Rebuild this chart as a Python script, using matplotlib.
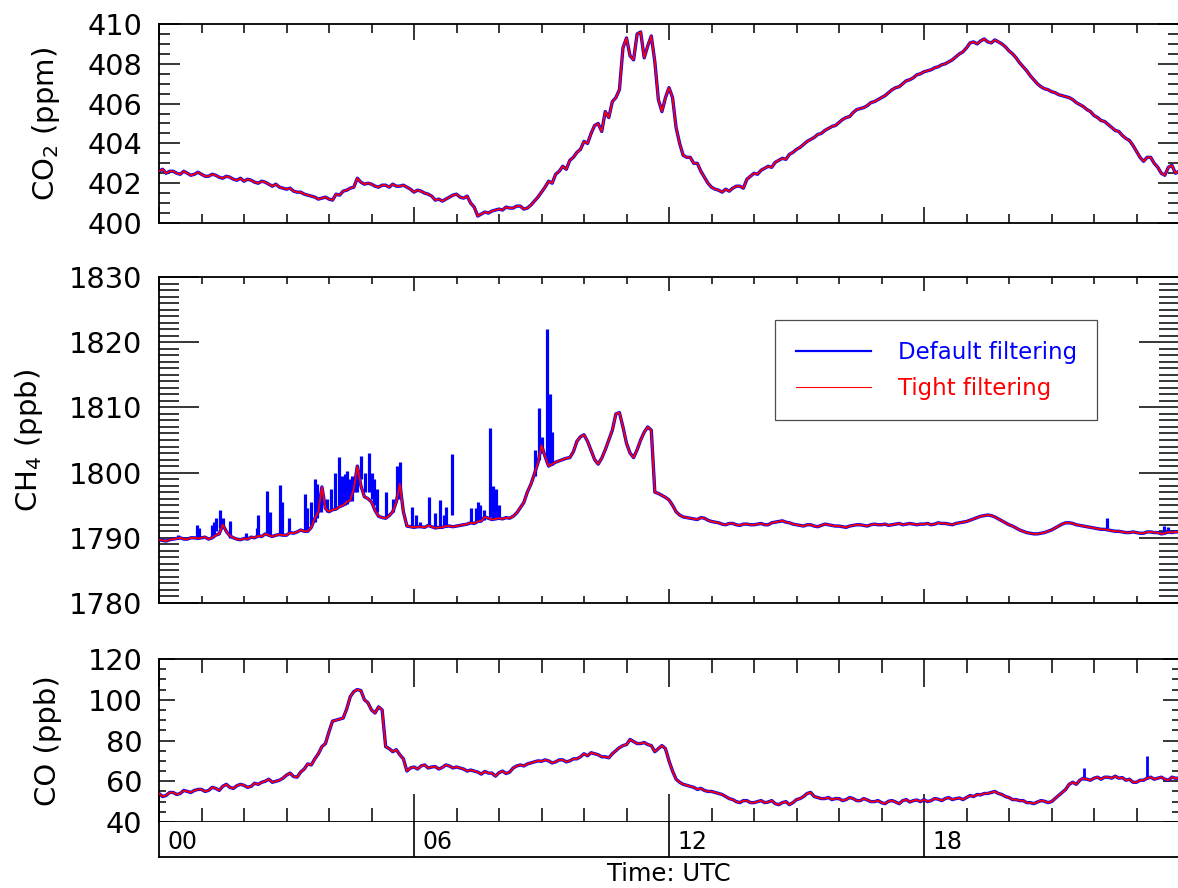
import numpy as np
import matplotlib.pyplot as plt
from matplotlib.ticker import MultipleLocator

plt.rcParams['font.family'] = 'DejaVu Sans'
plt.rcParams['mathtext.default'] = 'regular'

# 5-minute samples, 00 to 24 UTC
hours = np.linspace(0, 24, 289)

co2 = [
    402.6, 402.7, 402.5, 402.6, 402.6, 402.5, 402.45, 402.6, 402.5, 402.4, 402.45, 402.55,
    402.45, 402.35, 402.35, 402.45, 402.4, 402.3, 402.25, 402.35, 402.3, 402.2, 402.15, 402.25,
    402.1, 402.2, 402.15, 402.05, 402.0, 402.1, 402.05, 401.95, 401.85, 401.95, 401.8, 401.75,
    401.7, 401.75, 401.6, 401.55, 401.55, 401.45, 401.4, 401.35, 401.3, 401.2, 401.25, 401.3,
    401.2, 401.15, 401.45, 401.4, 401.6, 401.65, 401.75, 401.8, 402.25, 402.05, 401.95, 402.0,
    401.95, 401.85, 401.8, 401.9, 401.9, 401.8, 401.95, 401.85, 401.85, 401.9, 401.8, 401.7,
    401.55, 401.65, 401.6, 401.5, 401.45, 401.35, 401.15, 401.2, 401.1, 401.2, 401.3, 401.4,
    401.45, 401.3, 401.25, 401.35, 401.0, 400.8, 400.35, 400.45, 400.55, 400.5, 400.6, 400.65,
    400.7, 400.65, 400.8, 400.75, 400.75, 400.85, 400.85, 400.7, 400.75, 400.9, 401.1, 401.3,
    401.55, 401.8, 402.1, 402.0, 402.45, 402.6, 402.85, 402.7, 403.15, 403.3, 403.55, 403.7,
    404.1, 404.0, 404.5, 404.9, 405.0, 404.6, 405.6, 405.3, 406.1, 406.3, 406.7, 408.8,
    409.3, 408.4, 408.2, 409.5, 409.6, 408.3, 408.9, 409.4, 408.1, 406.2, 405.6, 406.3,
    406.8, 406.3, 404.8, 404.0, 403.4, 403.3, 403.3, 403.0, 403.0, 402.6, 402.3, 402.0,
    401.8, 401.7, 401.65, 401.55, 401.7, 401.6, 401.75, 401.85, 401.85, 401.75, 402.2, 402.35,
    402.5, 402.45, 402.65, 402.75, 402.85, 402.8, 403.05, 403.15, 403.25, 403.2, 403.45, 403.55,
    403.7, 403.8, 403.95, 404.1, 404.2, 404.3, 404.45, 404.5, 404.65, 404.75, 404.85, 404.9,
    405.05, 405.2, 405.3, 405.35, 405.55, 405.7, 405.75, 405.8, 405.9, 406.05, 406.1, 406.2,
    406.3, 406.4, 406.55, 406.7, 406.8, 406.85, 407.0, 407.15, 407.2, 407.3, 407.45, 407.5,
    407.6, 407.65, 407.7, 407.8, 407.85, 407.95, 408.0, 408.1, 408.2, 408.35, 408.5, 408.6,
    408.8, 409.05, 409.1, 409.0, 409.15, 409.25, 409.1, 409.05, 409.2, 409.1, 409.0, 408.85,
    408.65, 408.5, 408.3, 408.05, 407.85, 407.65, 407.4, 407.2, 407.0, 406.85, 406.75, 406.7,
    406.6, 406.55, 406.45, 406.4, 406.35, 406.3, 406.2, 406.05, 405.95, 405.85, 405.7, 405.6,
    405.4, 405.3, 405.15, 405.1, 404.95, 404.8, 404.65, 404.6, 404.4, 404.25, 404.15, 403.9,
    403.6, 403.3, 403.1, 403.3, 403.3, 403.0, 402.8, 402.5, 402.4, 402.8, 402.9, 402.5,
    402.6,
]

ch4_tight = [
    1789.7, 1789.6, 1789.5, 1789.7, 1789.8, 1789.9, 1790.0, 1789.8, 1789.8, 1790.0, 1790.0, 1789.9,
    1790.0, 1790.1, 1789.8, 1790.0, 1790.4, 1790.6, 1792.0, 1791.0, 1790.3, 1790.0, 1789.8, 1789.7,
    1789.9, 1789.8, 1790.1, 1790.0, 1790.3, 1790.2, 1790.6, 1790.4, 1790.2, 1790.4, 1790.5, 1790.4,
    1790.4, 1790.8, 1790.7, 1790.9, 1791.2, 1791.0, 1791.0, 1791.6, 1793.0, 1794.0, 1797.8, 1794.5,
    1794.0, 1794.3, 1794.4, 1794.8, 1795.0, 1795.5, 1795.8, 1797.5, 1801.0, 1798.0, 1796.3, 1796.0,
    1795.5, 1794.2, 1793.3, 1793.1, 1793.0, 1793.4, 1794.0, 1795.5, 1798.3, 1794.0, 1791.8, 1791.7,
    1791.6, 1791.7, 1791.7, 1791.6, 1791.9, 1791.7, 1791.5, 1791.6, 1791.6, 1791.8, 1791.8, 1791.7,
    1791.8, 1791.9, 1792.0, 1792.1, 1792.3, 1792.2, 1792.5, 1792.6, 1793.2, 1793.0, 1792.8, 1792.9,
    1793.0, 1792.9, 1793.1, 1793.0, 1793.3, 1793.8, 1794.6, 1795.4, 1797.0, 1798.2, 1799.8, 1801.5,
    1804.2, 1802.5, 1801.0, 1801.3, 1801.6, 1801.8, 1802.0, 1802.2, 1802.3, 1803.2, 1804.8, 1805.5,
    1805.8, 1804.8, 1803.4, 1802.0, 1801.3, 1802.2, 1803.5, 1805.0, 1806.5, 1809.0, 1809.2, 1807.0,
    1804.5, 1803.0, 1802.3, 1803.5, 1805.0, 1806.2, 1807.0, 1806.5, 1797.0, 1796.8, 1796.5, 1796.2,
    1795.8, 1795.0, 1794.0, 1793.5, 1793.2, 1793.1, 1793.0, 1792.9, 1792.8, 1793.1, 1793.0, 1792.7,
    1792.5, 1792.4, 1792.3, 1792.1, 1792.0, 1792.2, 1792.2, 1792.0, 1791.9, 1792.1, 1792.1, 1792.0,
    1792.0, 1792.1, 1792.2, 1792.0, 1792.0, 1792.3, 1792.4, 1792.5, 1792.6, 1792.4, 1792.3, 1792.1,
    1792.0, 1791.9, 1791.8, 1792.0, 1792.0, 1791.8, 1791.7, 1791.9, 1792.1, 1792.0, 1791.9, 1791.8,
    1791.8, 1791.7, 1791.6, 1791.8, 1791.9, 1792.0, 1792.0, 1791.9, 1791.8, 1792.0, 1792.1, 1792.0,
    1792.0, 1792.1, 1791.9, 1792.0, 1792.1, 1792.2, 1792.0, 1792.1, 1792.2, 1792.1, 1792.0, 1792.1,
    1792.1, 1792.2, 1792.0, 1792.1, 1792.3, 1792.2, 1792.2, 1792.1, 1792.0, 1792.2, 1792.3, 1792.4,
    1792.5, 1792.7, 1792.9, 1793.1, 1793.3, 1793.4, 1793.5, 1793.4, 1793.2, 1792.9, 1792.6, 1792.3,
    1792.0, 1791.8, 1791.5, 1791.2, 1791.0, 1790.8, 1790.7, 1790.6, 1790.6, 1790.7, 1790.8, 1791.0,
    1791.2, 1791.5, 1791.8, 1792.1, 1792.3, 1792.3, 1792.2, 1792.0, 1791.9, 1791.8, 1791.7, 1791.6,
    1791.5, 1791.4, 1791.3, 1791.3, 1791.2, 1791.1, 1791.0, 1791.0, 1790.9, 1790.8, 1790.8, 1790.9,
    1790.8, 1790.7, 1790.7, 1790.9, 1790.9, 1790.8, 1790.8, 1790.6, 1790.7, 1790.9, 1790.8, 1790.9,
    1790.9,
]

# spikes only kept by the default filter
ch4_spike_hour = [0.45, 0.89, 0.95, 1.24, 1.3, 1.35, 1.44, 1.5, 1.67, 2.05, 2.3, 2.34,
                  2.55, 2.6, 2.85, 2.9, 3.05, 3.43, 3.48, 3.58, 3.67, 3.72, 3.8, 3.95,
                  4.05, 4.15, 4.24, 4.3, 4.38, 4.42, 4.5, 4.55, 4.6, 4.65, 4.75, 4.85,
                  4.93, 5.0, 5.06, 5.12, 5.35, 5.5, 5.6, 5.67, 5.96, 6.05, 6.15, 6.35,
                  6.5, 6.6, 6.7, 6.75, 6.89, 7.35, 7.45, 7.5, 7.55, 7.65, 7.79, 7.85,
                  7.92, 8.0, 8.85, 8.94, 9.0, 9.13, 9.2, 9.25, 22.3, 23.65, 23.75]
ch4_spike_base = [1789.8, 1790.0, 1790.0, 1790.0, 1790.2, 1791.0, 1791.5, 1791.5, 1790.0, 1790.0, 1790.2, 1790.3,
                  1790.4, 1790.4, 1790.5, 1790.5, 1790.8, 1791.0, 1791.0, 1792.0, 1792.5, 1793.0, 1794.0, 1794.0,
                  1794.2, 1794.5, 1795.0, 1795.0, 1795.0, 1795.2, 1796.0, 1795.6, 1797.0, 1797.0, 1799.0, 1797.0,
                  1797.0, 1796.0, 1795.0, 1794.0, 1793.2, 1794.0, 1796.0, 1796.0, 1791.7, 1791.7, 1791.7, 1791.8,
                  1791.6, 1791.6, 1791.7, 1791.7, 1793.5, 1792.3, 1792.5, 1792.5, 1792.5, 1792.8, 1793.2, 1793.0,
                  1793.0, 1793.0, 1799.5, 1802.0, 1803.0, 1801.5, 1801.5, 1801.2, 1791.5, 1790.8, 1790.8]
ch4_spike_top = [1790.5, 1791.9, 1791.5, 1791.9, 1792.5, 1793.0, 1794.3, 1793.0, 1792.6, 1790.8, 1791.5, 1793.5,
                 1797.2, 1794.0, 1798.1, 1795.5, 1793.0, 1796.7, 1794.5, 1795.5, 1799.0, 1798.3, 1797.0, 1796.0,
                 1797.5, 1800.0, 1802.4, 1799.5, 1799.8, 1800.2, 1799.0, 1799.5, 1798.5, 1801.0, 1802.6, 1800.0,
                 1803.0, 1800.0, 1799.0, 1797.5, 1797.0, 1796.0, 1801.0, 1801.7, 1794.7, 1793.5, 1792.5, 1796.3,
                 1793.8, 1795.8, 1793.5, 1794.8, 1802.8, 1794.5, 1794.5, 1795.5, 1795.0, 1794.2, 1806.9, 1797.9,
                 1797.5, 1795.0, 1803.5, 1809.9, 1805.5, 1822.0, 1812.0, 1806.2, 1793.1, 1791.8, 1791.6]

co = [
    54.0, 52.5, 53.0, 54.5, 54.5, 53.5, 54.0, 55.5, 55.0, 54.5, 55.5, 56.0,
    56.0, 55.0, 55.5, 57.0, 56.5, 55.5, 57.5, 58.5, 57.0, 56.5, 57.8, 58.5,
    58.0, 57.0, 57.5, 59.0, 58.5, 59.5, 60.0, 61.0, 59.5, 60.0, 60.5, 61.5,
    63.0, 64.0, 62.3, 62.0, 64.5, 66.0, 68.5, 68.0, 71.0, 73.5, 77.0, 78.5,
    84.3, 89.5, 90.0, 90.5, 91.0, 95.5, 101.5, 104.0, 105.0, 104.5, 100.0, 98.5,
    95.0, 93.5, 96.5, 95.0, 77.0, 76.0, 74.5, 75.5, 73.0, 71.0, 65.0, 66.5,
    67.0, 66.0, 67.5, 68.0, 66.5, 67.0, 67.2, 66.0, 66.8, 68.0, 67.5, 66.5,
    67.0, 66.5, 66.0, 65.0, 65.5, 65.0, 64.5, 63.5, 64.8, 64.0, 64.0, 62.5,
    64.2, 65.0, 63.8, 64.5, 66.5, 67.5, 68.0, 67.5, 68.5, 69.0, 69.5, 70.0,
    69.8, 70.5, 70.0, 69.0, 69.5, 70.5, 70.5, 69.5, 70.0, 71.0, 71.0, 72.0,
    73.5, 72.5, 74.0, 73.5, 73.0, 72.0, 72.0, 71.5, 73.5, 75.0, 76.5, 77.5,
    78.0, 80.5, 79.5, 78.5, 78.5, 79.0, 78.0, 77.5, 74.5, 76.0, 77.5, 76.0,
    70.0, 65.0, 61.0, 59.5, 58.5, 58.0, 57.5, 57.0, 56.0, 56.5, 55.5, 55.0,
    55.0, 54.5, 54.0, 53.5, 52.5, 51.5, 51.0, 50.0, 49.5, 50.5, 50.5, 49.5,
    49.5, 50.0, 50.5, 49.5, 49.8, 50.5, 49.0, 48.5, 49.5, 50.0, 48.5, 49.5,
    51.0, 51.5, 52.5, 54.0, 54.5, 52.5, 52.0, 51.5, 51.5, 52.0, 51.0, 51.5,
    51.5, 50.5, 51.0, 52.0, 51.5, 50.5, 50.5, 51.5, 50.8, 50.0, 50.0, 50.5,
    49.5, 49.0, 50.2, 50.5, 49.8, 49.0, 50.5, 51.0, 49.8, 50.5, 50.8, 50.0,
    51.0, 50.0, 50.5, 51.5, 51.2, 50.5, 51.5, 52.0, 51.0, 51.5, 51.8, 51.0,
    52.0, 53.0, 52.5, 53.5, 53.3, 54.0, 54.0, 54.5, 55.0, 54.0, 53.5, 52.5,
    52.0, 51.0, 51.0, 50.5, 50.5, 49.5, 49.5, 49.0, 49.8, 50.5, 50.2, 49.5,
    50.0, 51.5, 53.0, 54.5, 56.0, 58.5, 59.5, 58.5, 60.5, 61.5, 61.0, 60.5,
    61.5, 62.0, 61.0, 62.0, 62.0, 61.5, 62.5, 61.5, 61.8, 60.5, 61.0, 59.5,
    59.5, 60.5, 60.5, 61.5, 62.0, 61.0, 61.5, 62.0, 61.0, 60.5, 62.0, 61.5,
    61.5,
]
co_spike_hour = [21.77, 23.25]
co_spike_base = [60.5, 61.0]
co_spike_top = [66.4, 72.4]

time_label_hours = [0, 6, 12, 18]
time_labels = ['00', '06', '12', '18']

assert len(co2) == len(ch4_tight) == len(co) == len(hours)

BLUE = '#0000ff'
RED = '#ff0000'
W, H = 1178, 888
PT = 0.72  # points per pixel at dpi 100

fig = plt.figure(figsize=(W / 100, H / 100), dpi=100)


def px_axes(top, bottom):
    return fig.add_axes([159 / W, 1 - bottom / H, 1020 / W, (bottom - top) / H])


def style(ax, ymaj, ymin, ylen, xlen):
    ax.set_xlim(0, 24)
    ax.xaxis.set_major_locator(MultipleLocator(6))
    ax.xaxis.set_minor_locator(MultipleLocator(1))
    ax.yaxis.set_major_locator(MultipleLocator(ymaj))
    ax.yaxis.set_minor_locator(MultipleLocator(ymin))
    ax.tick_params(which='both', direction='in', top=True, right=True,
                   labelbottom=False, width=1.1, color='black')
    ax.tick_params(axis='y', which='major', length=ylen[0] * PT, labelsize=20.7, pad=12)
    ax.tick_params(axis='y', which='minor', length=ylen[1] * PT)
    ax.tick_params(axis='x', which='major', length=xlen[0] * PT)
    ax.tick_params(axis='x', which='minor', length=xlen[1] * PT)
    for s in ax.spines.values():
        s.set_linewidth(1.3)


# CO2
ax1 = px_axes(24, 223)
ax1.plot(hours, co2, color=BLUE, lw=2.4, zorder=2)
ax1.plot(hours, co2, color=RED, lw=1.3, zorder=3)
ax1.set_ylim(400, 410)
style(ax1, 2, 0.5, (21, 11), (16, 9))
ax1.set_ylabel('CO$_2$ (ppm)', fontsize=21)
ax1.yaxis.set_label_coords(-(159 - 62) / 1020, 0.5)

# CH4
ax2 = px_axes(277, 603)
l_def, = ax2.plot(hours, ch4_tight, color=BLUE, lw=2.4, zorder=2, label='Default filtering')
ax2.vlines(ch4_spike_hour, ch4_spike_base, ch4_spike_top, color=BLUE, lw=2.3, zorder=2)
l_tight, = ax2.plot(hours, ch4_tight, color=RED, lw=1.3, zorder=3, label='Tight filtering')
ax2.set_ylim(1780, 1830)
style(ax2, 10, 1, (40, 20), (14, 7))
ax2.set_ylabel('CH$_4$ (ppb)', fontsize=21)
ax2.yaxis.set_label_coords(-(159 - 45) / 1020, 0.5)
leg = ax2.legend(handles=[l_def, l_tight], loc='upper left',
                 bbox_to_anchor=(775 / W, 1 - 320 / H), bbox_transform=fig.transFigure,
                 borderaxespad=0, fontsize=16.5, labelcolor='linecolor',
                 handlelength=3.27, handletextpad=1.18, borderpad=0.9,
                 labelspacing=0.57, fancybox=False, framealpha=1)
leg.get_frame().set_edgecolor('0.3')
leg.get_frame().set_linewidth(0.9)
leg.get_lines()[0].set_linewidth(1.6)
leg.get_lines()[1].set_linewidth(0.8)

# CO
ax3 = px_axes(659, 822)
ax3.plot(hours, co, color=BLUE, lw=2.4, zorder=2)
ax3.vlines(co_spike_hour, co_spike_base, co_spike_top, color=BLUE, lw=2.0, zorder=2)
ax3.plot(hours, co, color=RED, lw=1.3, zorder=3)
ax3.set_ylim(40, 120)
style(ax3, 20, 5, (16, 7), (28, 14))
ax3.set_ylabel('CO (ppb)', fontsize=21)
ax3.yaxis.set_label_coords(-(159 - 62) / 1020, 0.5)

# time label strip
ax4 = px_axes(822, 857)
ax4.set_xlim(0, 24)
ax4.set_ylim(0, 1)
ax4.set_xticks([])
ax4.set_yticks([])
ax4.spines['top'].set_visible(False)
for s in ax4.spines.values():
    s.set_linewidth(1.3)
for h, lab in zip(time_label_hours, time_labels):
    if h > 0:
        ax4.axvline(h, color='black', lw=1.2)
    ax4.text(h + 0.19, 0.42, lab, ha='left', va='center', fontsize=17)

fig.text(669 / W, 1 - 874 / H, 'Time: UTC', ha='center', va='center', fontsize=17.5)

fig.savefig('out.png', dpi=100)
